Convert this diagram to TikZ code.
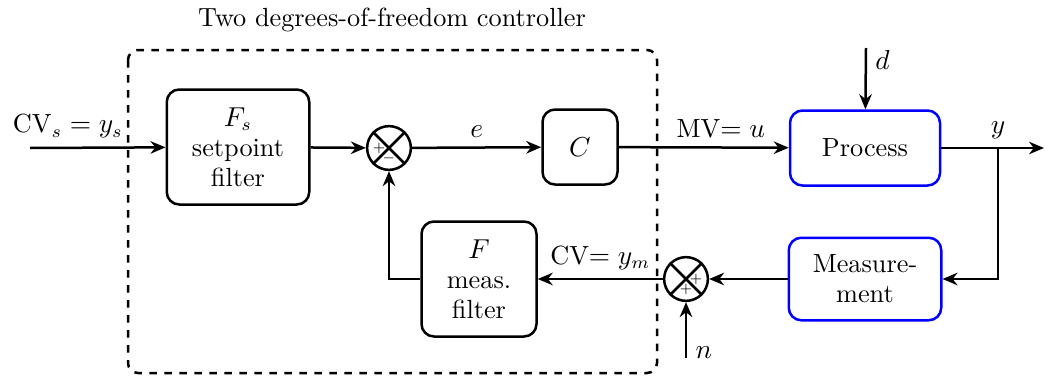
\documentclass[tikz,border=0pt]{standalone}
\usetikzlibrary{arrows.meta}
\begin{document}
\begin{tikzpicture}[x=0.4pt, y=-0.4pt, line width=1pt, >={Stealth[length=6pt,width=5pt]},
  font=\fontsize{10.5pt}{12pt}\selectfont,
  block/.style={draw, rounded corners=5pt, align=center, inner sep=2pt},
  procblock/.style={block, draw=blue},
  sumnode/.style={draw, circle, minimum size=17.5pt, inner sep=0pt},
  sign/.style={font=\tiny, inner sep=0pt}]
\useasboundingbox (0,0) rectangle (1046,380);
% Controller frame
\draw[dashed, rounded corners=4pt] (128,50) rectangle (657,373);
\node (title) at (392,20) {Two degrees-of-freedom controller};

% Blocks
\node[block, minimum width=57pt, minimum height=46pt] (Fs) at (238,147) {$F_s$\\setpoint\\filter};
\node[sumnode] (s1) at (389,148) {};
\node[block, minimum size=30pt] (C) at (580,147) {$C$};
\node[procblock, minimum width=60pt, minimum height=30pt] (proc) at (865,148) {Process};
\node[procblock, minimum width=61pt, minimum height=33pt] (meas) at (865,279) {Measure-\\ment};
\node[sumnode] (s2) at (686,279) {};
\node[block, minimum size=46pt] (F) at (479,279) {$F$\\meas.\\filter};

% Summing junctions
\foreach \s in {s1,s2}{
  \draw (\s.north west) -- (\s.south east);
  \draw (\s.north east) -- (\s.south west);
}
\node[sign] (s1p) at ([xshift=-4pt]s1.center) {$+$};
\node[sign] (s1m) at ([yshift=-4pt]s1.center) {$-$};
\node[sign] (s2p) at ([xshift=4pt]s2.center) {$+$};
\node[sign] (s2q) at ([yshift=-4pt]s2.center) {$+$};

% Signal ends
\coordinate (in) at (30,148);
\coordinate (out) at (1044,148);
\coordinate (branch) at (998,148);
\coordinate (dist) at (866,48);
\coordinate (noise) at (686,358);

% Signals
\draw[->] (in) -- node[above, pos=0.28] {CV$_s=y_s$} (Fs);
\draw[->] (Fs) -- (s1);
\draw[->] (s1) -- node[above] {$e$} (C);
\draw[->] (C) -- node[above, pos=0.6] {MV$=u$} (proc);
\draw[->] (dist) -- node[right, pos=0.19] {$d$} (proc);
\draw[->] (proc) -- (out);
\node[above] (ylab) at (branch) {$y$};
\draw[->] (branch) |- (meas);
\draw[->] (meas) -- (s2);
\draw[->] (noise) -- node[right, pos=0.1] {$n$} (s2);
\draw[->] (s2) -- node[above] {CV$=y_m$} (F);
\draw[->] (F) -| (s1);
\end{tikzpicture}
\end{document}
